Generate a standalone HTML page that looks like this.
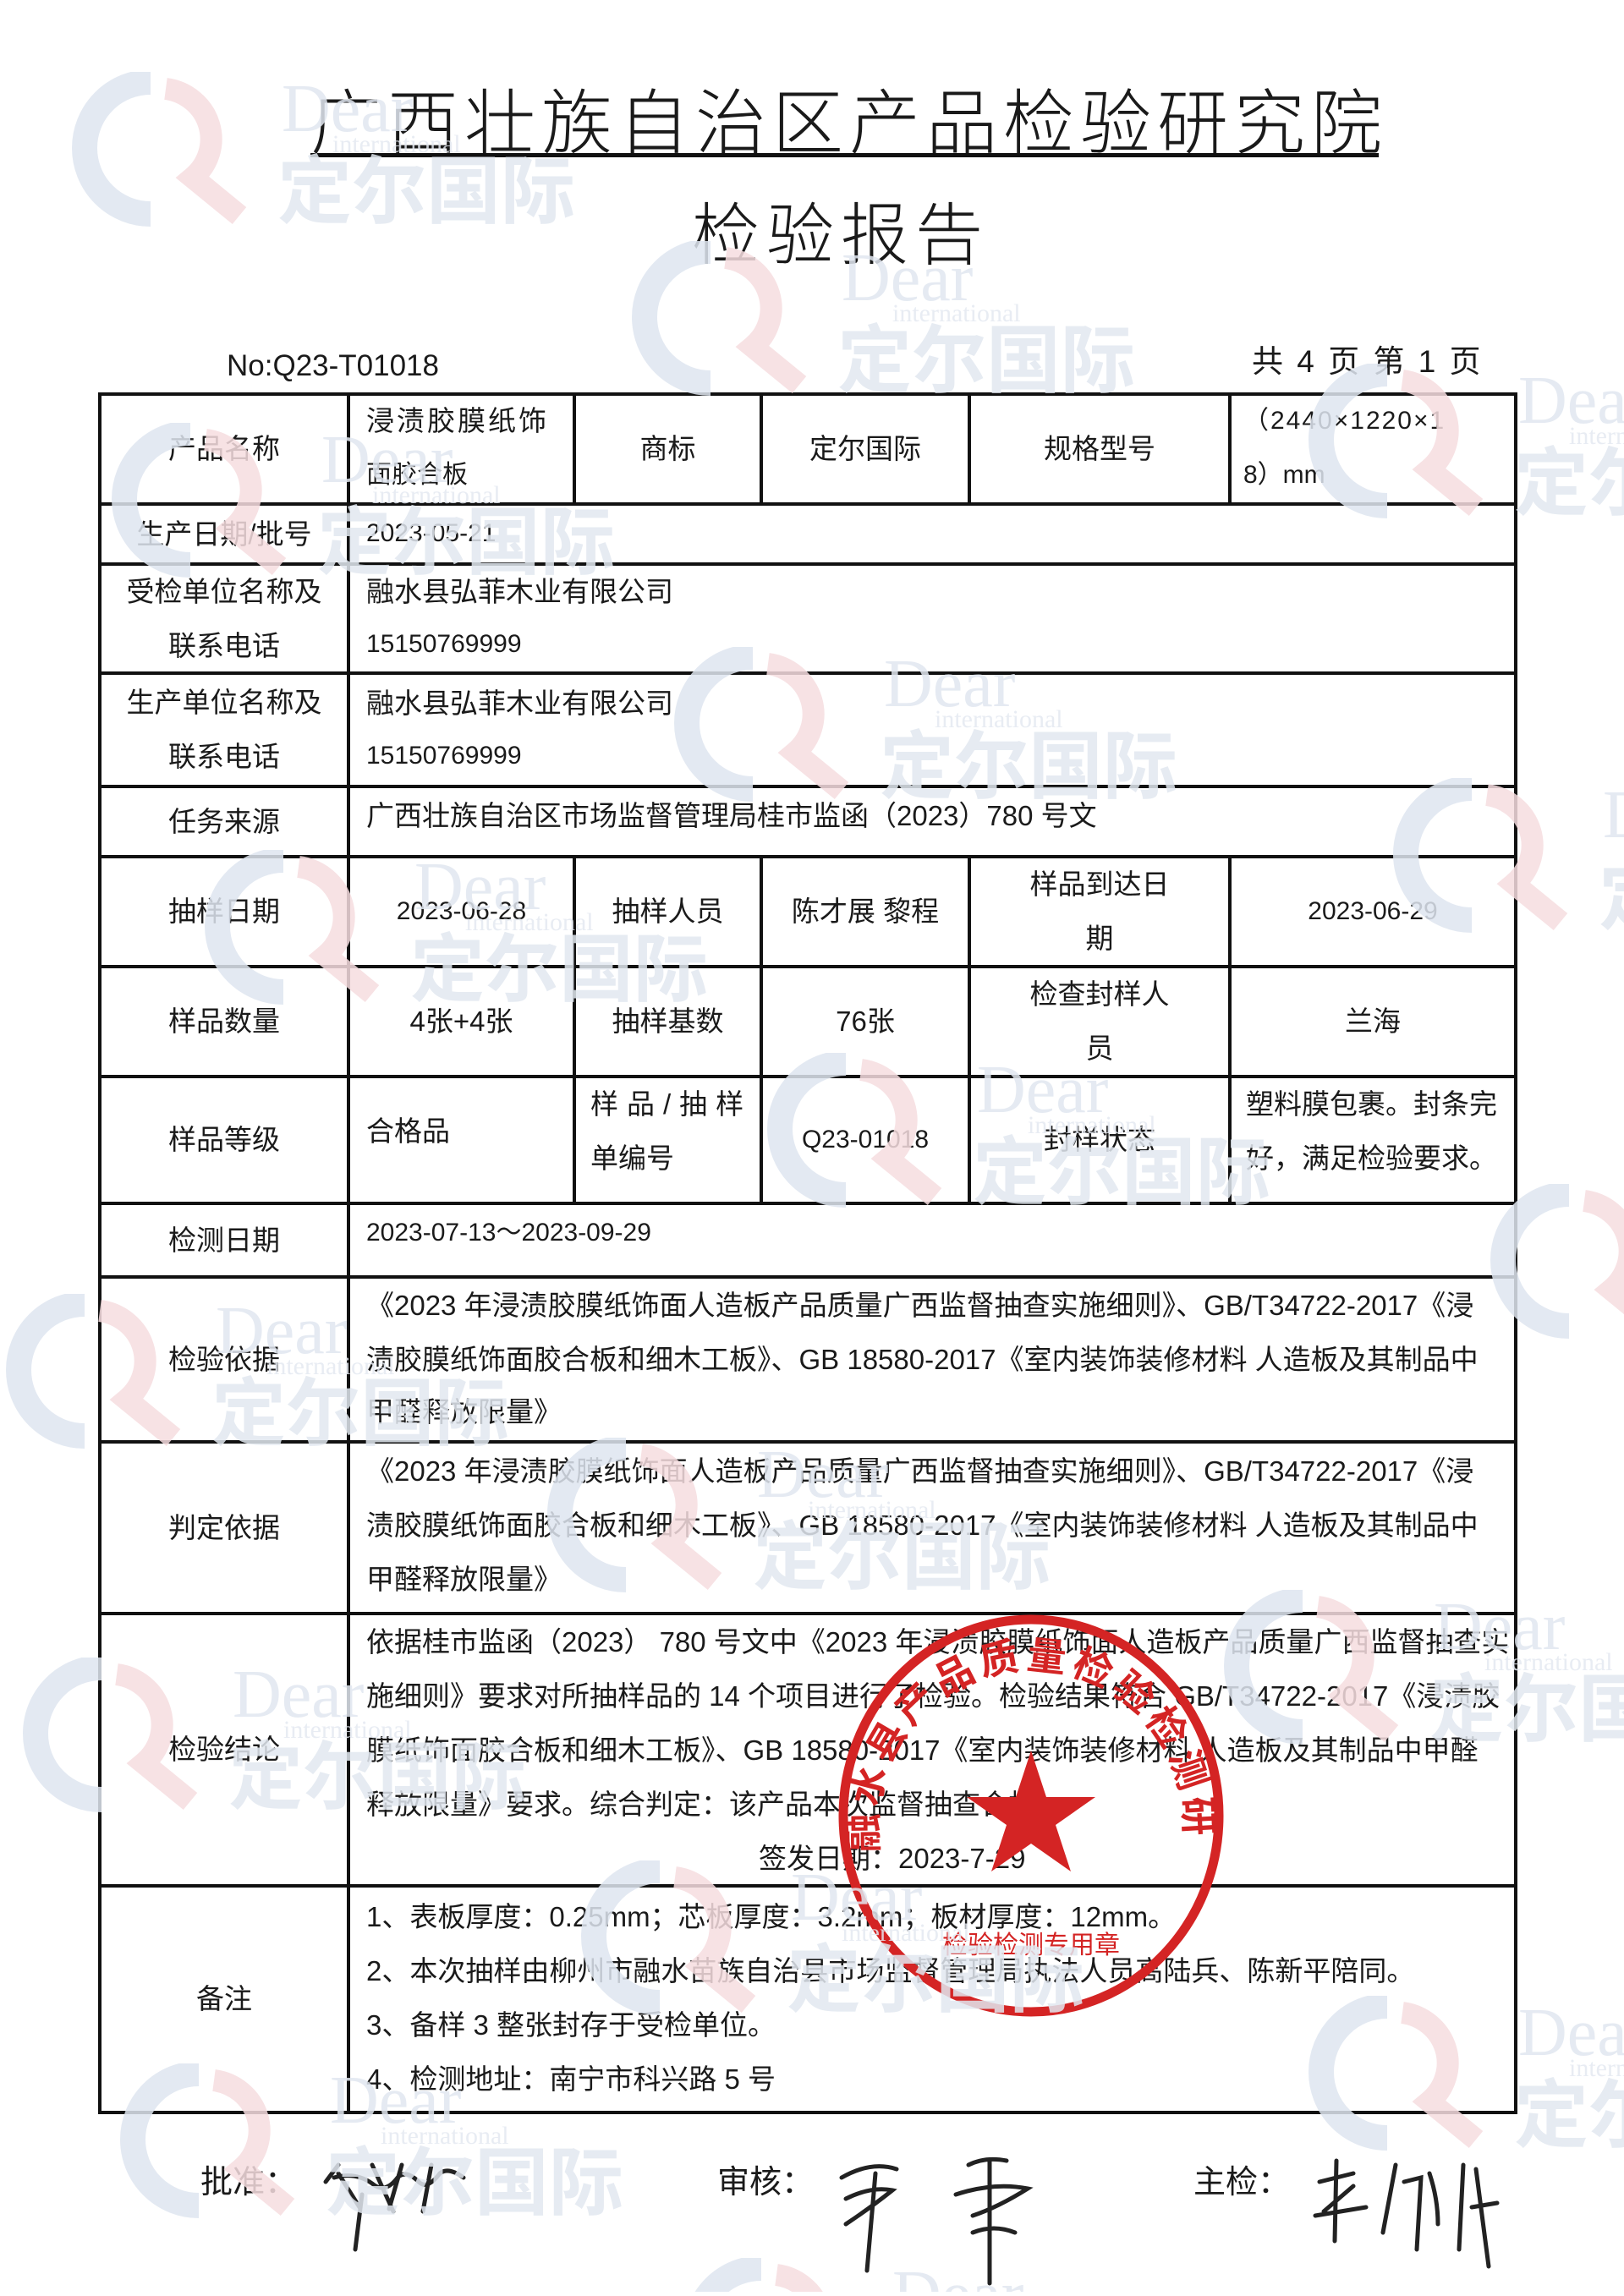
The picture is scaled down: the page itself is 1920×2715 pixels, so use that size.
<!DOCTYPE html>
<html><head><meta charset="utf-8">
<style>
html,body{margin:0;padding:0;background:#fff;}
body{width:1920px;height:2715px;position:relative;overflow:hidden;font-family:"Liberation Sans","Noto Sans CJK SC",sans-serif;color:#1a1a1a;}
.a{position:absolute;white-space:nowrap;}
.c{position:absolute;display:flex;align-items:center;justify-content:center;text-align:center;font-size:33px;line-height:64px;}
.l{position:absolute;font-size:33px;line-height:64px;white-space:nowrap;}
.wm{position:absolute;pointer-events:none;}
#wmw{position:absolute;left:0;top:0;width:1920px;height:2715px;overflow:hidden;pointer-events:none;}
</style></head><body>

<div class="a" style="left:367px;top:92px;font-size:84px;letter-spacing:7px;line-height:96px;font-family:'Noto Sans CJK SC',sans-serif;font-weight:300;">广西壮族自治区产品检验研究院</div>
<div class="a" style="left:367px;top:181px;width:1263px;height:5px;background:#111;"></div>
<div class="a" style="left:818px;top:224px;font-size:80px;letter-spacing:8px;line-height:96px;font-family:'Noto Sans CJK SC',sans-serif;font-weight:300;">检验报告</div>
<div class="a" style="left:268px;top:410px;font-size:35px;line-height:46px;">No:Q23-T01018</div>
<div class="a" style="left:1480px;top:405px;font-size:37px;line-height:46px;letter-spacing:3px;">共 4 页 第 1 页</div>

<svg class="a" style="left:0;top:0" width="1920" height="2715">
<g stroke="#111" stroke-width="4" fill="none">
<rect x="118" y="466" width="1674" height="2032"/>
<line x1="118" y1="596" x2="1792" y2="596"/>
<line x1="118" y1="667" x2="1792" y2="667"/>
<line x1="118" y1="796" x2="1792" y2="796"/>
<line x1="118" y1="930" x2="1792" y2="930"/>
<line x1="118" y1="1013" x2="1792" y2="1013"/>
<line x1="118" y1="1143" x2="1792" y2="1143"/>
<line x1="118" y1="1273" x2="1792" y2="1273"/>
<line x1="118" y1="1423" x2="1792" y2="1423"/>
<line x1="118" y1="1510" x2="1792" y2="1510"/>
<line x1="118" y1="1705" x2="1792" y2="1705"/>
<line x1="118" y1="1908" x2="1792" y2="1908"/>
<line x1="118" y1="2230" x2="1792" y2="2230"/>
<line x1="412" y1="466" x2="412" y2="2498"/>
<line x1="679" y1="466" x2="679" y2="596"/>
<line x1="900" y1="466" x2="900" y2="596"/>
<line x1="1146" y1="466" x2="1146" y2="596"/>
<line x1="1454" y1="466" x2="1454" y2="596"/>
<line x1="679" y1="1013" x2="679" y2="1423"/>
<line x1="900" y1="1013" x2="900" y2="1423"/>
<line x1="1146" y1="1013" x2="1146" y2="1423"/>
<line x1="1454" y1="1013" x2="1454" y2="1423"/>
</g></svg>

<div class="c" style="left:118px;top:466px;width:294px;height:130px;">产品名称</div>
<div class="l" style="left:433px;top:466px;letter-spacing:3px;">浸渍胶膜纸饰</div>
<div class="l" style="left:433px;top:530px;font-size:30px;">面胶合板</div>
<div class="c" style="left:679px;top:466px;width:221px;height:130px;">商标</div>
<div class="c" style="left:900px;top:466px;width:246px;height:130px;">定尔国际</div>
<div class="c" style="left:1146px;top:466px;width:308px;height:130px;">规格型号</div>
<div class="l" style="left:1470px;top:466px;font-size:30px;letter-spacing:2px;">（2440×1220×1</div>
<div class="l" style="left:1470px;top:530px;font-size:30px;">8）mm</div>

<div class="c" style="left:118px;top:596px;width:294px;height:71px;">生产日期/批号</div>
<div class="l" style="left:433px;top:599px;font-size:30px;">2023-05-21</div>

<div class="c" style="left:118px;top:667px;width:294px;height:129px;flex-direction:column;"><div>受检单位名称及</div><div>联系电话</div></div>
<div class="c" style="left:118px;top:796px;width:294px;height:134px;flex-direction:column;"><div>生产单位名称及</div><div>联系电话</div></div>
<div class="l" style="left:433px;top:668px;">融水县弘菲木业有限公司</div>
<div class="l" style="left:433px;top:730px;font-size:30px;">15150769999</div>
<div class="l" style="left:433px;top:800px;">融水县弘菲木业有限公司</div>
<div class="l" style="left:433px;top:862px;font-size:30px;">15150769999</div>

<div class="c" style="left:118px;top:930px;width:294px;height:83px;">任务来源</div>
<div class="l" style="left:433px;top:933px;">广西壮族自治区市场监督管理局桂市监函（2023）780 号文</div>

<div class="c" style="left:118px;top:1013px;width:294px;height:130px;">抽样日期</div>
<div class="c" style="left:412px;top:1013px;width:267px;height:130px;font-size:30px;">2023-06-28</div>
<div class="c" style="left:679px;top:1013px;width:221px;height:130px;">抽样人员</div>
<div class="c" style="left:900px;top:1013px;width:246px;height:130px;">陈才展 黎程</div>
<div class="c" style="left:1146px;top:1013px;width:308px;height:130px;flex-direction:column;"><div>样品到达日</div><div>期</div></div>
<div class="c" style="left:1454px;top:1013px;width:338px;height:130px;font-size:30px;">2023-06-29</div>

<div class="c" style="left:118px;top:1143px;width:294px;height:130px;">样品数量</div>
<div class="c" style="left:412px;top:1143px;width:267px;height:130px;">4张+4张</div>
<div class="c" style="left:679px;top:1143px;width:221px;height:130px;">抽样基数</div>
<div class="c" style="left:900px;top:1143px;width:246px;height:130px;">76张</div>
<div class="c" style="left:1146px;top:1143px;width:308px;height:130px;flex-direction:column;"><div>检查封样人</div><div>员</div></div>
<div class="c" style="left:1454px;top:1143px;width:338px;height:130px;">兰海</div>

<div class="c" style="left:118px;top:1273px;width:294px;height:150px;">样品等级</div>
<div class="l" style="left:433px;top:1306px;">合格品</div>
<div class="l" style="left:698px;top:1274px;letter-spacing:10px;">样品/抽样</div>
<div class="l" style="left:698px;top:1338px;">单编号</div>
<div class="c" style="left:900px;top:1273px;width:246px;height:150px;font-size:30px;">Q23-01018</div>
<div class="c" style="left:1146px;top:1273px;width:308px;height:150px;">封样状态</div>
<div class="l" style="left:1473px;top:1274px;">塑料膜包裹。封条完</div>
<div class="l" style="left:1473px;top:1338px;">好，满足检验要求。</div>

<div class="c" style="left:118px;top:1423px;width:294px;height:87px;">检测日期</div>
<div class="l" style="left:433px;top:1426px;font-size:30px;">2023-07-13～2023-09-29</div>

<div class="c" style="left:118px;top:1510px;width:294px;height:195px;">检验依据</div>
<div class="l" style="left:433px;top:1512px;">《2023 年浸渍胶膜纸饰面人造板产品质量广西监督抽查实施细则》、GB/T34722-2017《浸</div>
<div class="l" style="left:433px;top:1576px;">渍胶膜纸饰面胶合板和细木工板》、GB 18580-2017《室内装饰装修材料 人造板及其制品中</div>
<div class="l" style="left:433px;top:1638px;">甲醛释放限量》</div>

<div class="c" style="left:118px;top:1705px;width:294px;height:203px;">判定依据</div>
<div class="l" style="left:433px;top:1708px;">《2023 年浸渍胶膜纸饰面人造板产品质量广西监督抽查实施细则》、GB/T34722-2017《浸</div>
<div class="l" style="left:433px;top:1772px;">渍胶膜纸饰面胶合板和细木工板》、GB 18580-2017《室内装饰装修材料 人造板及其制品中</div>
<div class="l" style="left:433px;top:1836px;">甲醛释放限量》</div>

<div class="c" style="left:118px;top:1908px;width:294px;height:322px;">检验结论</div>
<div class="l" style="left:433px;top:1910px;">依据桂市监函（2023） 780 号文中《2023 年浸渍胶膜纸饰面人造板产品质量广西监督抽查实</div>
<div class="l" style="left:433px;top:1974px;">施细则》要求对所抽样品的 14 个项目进行了检验。检验结果符合 GB/T34722-2017《浸渍胶</div>
<div class="l" style="left:433px;top:2038px;">膜纸饰面胶合板和细木工板》、GB 18580-2017《室内装饰装修材料 人造板及其制品中甲醛</div>
<div class="l" style="left:433px;top:2102px;">释放限量》要求。综合判定：该产品本次监督抽查合格。</div>
<div class="l" style="left:897px;top:2166px;">签发日期：2023-7-29</div>

<div class="c" style="left:118px;top:2230px;width:294px;height:268px;">备注</div>
<div class="l" style="left:433px;top:2235px;">1、表板厚度：0.25mm；芯板厚度：3.2mm；板材厚度：12mm。</div>
<div class="l" style="left:433px;top:2299px;">2、本次抽样由柳州市融水苗族自治县市场监督管理局执法人员高陆兵、陈新平陪同。</div>
<div class="l" style="left:433px;top:2363px;">3、备样 3 整张封存于受检单位。</div>
<div class="l" style="left:433px;top:2427px;">4、检测地址：南宁市科兴路 5 号</div>

<div class="a" style="left:237px;top:2556px;font-size:38px;line-height:50px;">批准：</div>
<div class="a" style="left:848px;top:2556px;font-size:38px;line-height:50px;">审核：</div>
<div class="a" style="left:1411px;top:2556px;font-size:38px;line-height:50px;">主检：</div>
<svg class="a" style="left:0;top:2500px" width="1920" height="210">
<g stroke="#222" stroke-width="5" fill="none" stroke-linecap="round">
<path d="M385 80 L400 60 M395 75 Q420 68 440 82 Q455 95 470 75 Q480 65 495 80 Q505 90 520 70 Q530 62 548 75 M400 70 L425 110 M440 60 L465 115 M475 60 L460 112 M510 60 L500 115 M428 95 L420 160"/>
<path d="M995 75 Q1030 55 1060 65 M1000 100 Q1030 85 1055 90 Q1030 110 1000 130 M1035 70 L1025 185 M1145 60 Q1165 50 1190 55 M1130 95 Q1175 80 1215 88 Q1180 110 1150 120 M1170 55 L1170 200 M1150 140 Q1175 130 1200 140"/>
<path d="M1560 80 L1600 70 M1580 55 L1578 150 M1555 120 L1615 110 M1600 85 L1565 115 M1650 60 L1635 140 M1660 80 L1680 75 L1675 160 M1690 70 Q1700 100 1700 130 M1730 60 L1725 160 M1745 65 L1760 180 M1740 110 L1770 105"/>
</g></svg>

<svg class="a" style="left:969px;top:1890px" width="500" height="510">
<defs><path id="arc" d="M70 300 A182 188 0 1 1 430 300"/></defs>
<ellipse cx="250" cy="257" rx="222" ry="232" fill="none" stroke="#d42424" stroke-width="11"/>
<text font-family="Noto Sans CJK SC,sans-serif" font-size="46" fill="#d42424" font-weight="bold" letter-spacing="6"><textPath href="#arc">融水县产品质量检验检测研究院</textPath></text>
<polygon fill="#d42424" points="250,180 268,235 326,235 279,268 297,323 250,290 203,323 221,268 174,235 232,235"/>
<text x="250" y="420" text-anchor="middle" font-family="Noto Sans CJK SC,sans-serif" font-size="30" fill="#d42424">检验检测专用章</text>
</svg>

<div id="wmw">
<svg width="0" height="0" style="position:absolute"><defs>
<g id="w">
<path d="M100 12 A78 78 0 1 0 100 168" fill="none" stroke="#dfe6f0" stroke-width="30"/>
<path d="M118 20 A62 60 0 0 1 150 125 L205 170" fill="none" stroke="#f6dde0" stroke-width="26"/>
<text x="255" y="70" font-family="Liberation Serif,serif" font-size="80" fill="#e1e7f0">Dear</text>
<text x="315" y="95" font-family="Liberation Serif,serif" font-size="30" fill="#e4e9f1">international</text>
<text x="250" y="172" font-family="Noto Sans CJK SC,sans-serif" font-weight="bold" font-size="88" fill="#e2e8f0">定尔国际</text>
</g></defs></svg>
<svg class="wm" style="left:78px;top:85px;opacity:.85" width="680" height="190"><use href="#w"/></svg>
<svg class="wm" style="left:740px;top:285px;opacity:.85" width="680" height="190"><use href="#w"/></svg>
<svg class="wm" style="left:125px;top:500px;opacity:.85" width="680" height="190"><use href="#w"/></svg>
<svg class="wm" style="left:1540px;top:430px;opacity:.85" width="380" height="190"><use href="#w"/></svg>
<svg class="wm" style="left:790px;top:765px;opacity:.85" width="680" height="190"><use href="#w"/></svg>
<svg class="wm" style="left:1640px;top:920px;opacity:.85" width="280" height="190"><use href="#w"/></svg>
<svg class="wm" style="left:235px;top:1005px;opacity:.85" width="680" height="190"><use href="#w"/></svg>
<svg class="wm" style="left:900px;top:1245px;opacity:.85" width="680" height="190"><use href="#w"/></svg>
<svg class="wm" style="left:1755px;top:1400px;opacity:.85" width="165" height="190"><use href="#w"/></svg>
<svg class="wm" style="left:0px;top:1530px;opacity:.85" width="680" height="190"><use href="#w"/></svg>
<svg class="wm" style="left:640px;top:1700px;opacity:.85" width="680" height="190"><use href="#w"/></svg>
<svg class="wm" style="left:1440px;top:1880px;opacity:.85" width="480" height="190"><use href="#w"/></svg>
<svg class="wm" style="left:20px;top:1960px;opacity:.85" width="680" height="190"><use href="#w"/></svg>
<svg class="wm" style="left:680px;top:2200px;opacity:.85" width="680" height="190"><use href="#w"/></svg>
<svg class="wm" style="left:1540px;top:2360px;opacity:.85" width="380" height="190"><use href="#w"/></svg>
<svg class="wm" style="left:135px;top:2440px;opacity:.85" width="680" height="190"><use href="#w"/></svg>
<svg class="wm" style="left:800px;top:2670px;opacity:.85" width="680" height="40"><use href="#w"/></svg>
</div>
</body></html>
